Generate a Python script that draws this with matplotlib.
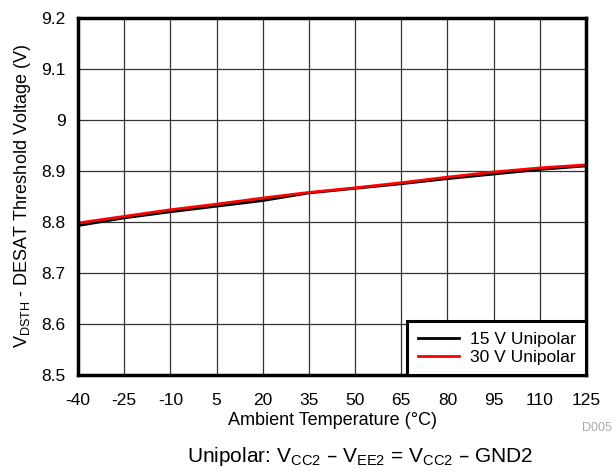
import matplotlib
matplotlib.use('Agg')
import matplotlib.pyplot as plt

plt.rcParams['font.family'] = ['Liberation Sans', 'DejaVu Sans']
plt.rcParams['mathtext.default'] = 'regular'

temp = [-40, -25, -10, 5, 20, 35, 50, 65, 80, 95, 110, 125]
v_15 = [8.793, 8.808, 8.820, 8.831, 8.842, 8.857, 8.866, 8.875, 8.885, 8.894, 8.903, 8.910]
v_30 = [8.798, 8.811, 8.824, 8.835, 8.847, 8.858, 8.867, 8.877, 8.888, 8.898, 8.906, 8.912]
yticks = [8.5, 8.6, 8.7, 8.8, 8.9, 9.0, 9.1, 9.2]
ytick_labels = ['8.5', '8.6', '8.7', '8.8', '8.9', '9', '9.1', '9.2']

fig = plt.figure(figsize=(6.16, 4.72), dpi=100)
ax = fig.add_axes([78/616, 1 - 375/472, (586-78)/616, (375-18)/472])

ax.plot(temp, v_15, color='black', lw=2, label='15 V Unipolar')
ax.plot(temp, v_30, color='#ff0000', lw=2, label='30 V Unipolar')

ax.set_xlim(-40, 125)
ax.set_ylim(8.5, 9.2)
ax.set_xticks(temp)
ax.set_xticklabels([str(t) for t in temp])
ax.set_yticks(yticks)
ax.set_yticklabels(ytick_labels)
ax.grid(True, color='#333333', lw=0.9)
ax.set_axisbelow(True)
ax.tick_params(axis='x', length=0, labelsize=12.5, pad=13)
ax.tick_params(axis='y', length=0, labelsize=12.5, pad=9)
for s in ax.spines.values():
    s.set_linewidth(2.5)

ax.set_xlabel('Ambient Temperature (°C)', fontsize=13, labelpad=3)
ax.set_ylabel('V$_{DSTH}$ - DESAT Threshold Voltage (V)', fontsize=13, labelpad=6)

leg = ax.legend(loc='lower right', fontsize=12.5, frameon=True, fancybox=False,
                framealpha=1, borderaxespad=0, handlelength=2.4, handletextpad=0.6,
                borderpad=0.6, labelspacing=0.15)
leg.get_frame().set_edgecolor('black')
leg.get_frame().set_linewidth(2.2)

fig.text(597/616, 1 - 428/472, 'D005', fontsize=9, color='#aaaaaa', ha='center', va='center')
fig.text(360/616, 1 - 457/472, 'Unipolar: V$_{CC2}$ – V$_{EE2}$ = V$_{CC2}$ – GND2',
         fontsize=15, ha='center', va='center')

fig.savefig('out.png', dpi=100)
